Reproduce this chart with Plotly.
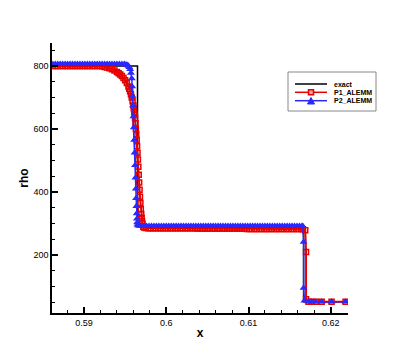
import plotly.graph_objects as go

# exact solution
x_exact = [0.5861, 0.5965, 0.5965, 0.6167, 0.6167, 0.6221]
rho_exact = [800, 800, 292, 292, 52, 52]

# P1_ALEMM
x_p1 = [0.5862, 0.5865, 0.5868, 0.5871, 0.5874, 0.5877, 0.5880, 0.5883, 0.5886, 0.5889,
        0.5892, 0.5895, 0.5898, 0.5901, 0.5904, 0.5907, 0.5910, 0.5913, 0.5916, 0.5919,
        0.5922, 0.5925, 0.5928, 0.5931, 0.5934, 0.5937, 0.5940, 0.5942, 0.5944, 0.5946,
        0.5948, 0.5950, 0.5952, 0.5954, 0.5955, 0.5956, 0.5957, 0.5958, 0.5959, 0.5960,
        0.59605, 0.5961, 0.59615, 0.5962, 0.59625, 0.5963, 0.59635, 0.5964, 0.59645, 0.5965,
        0.59655, 0.5966, 0.59665, 0.5967, 0.59675, 0.5968, 0.59685, 0.5969, 0.59695, 0.5970,
        0.59705, 0.5971, 0.5972, 0.5973, 0.5975,
        0.5978, 0.5981, 0.5984, 0.5987, 0.5990, 0.5993, 0.5996, 0.5999, 0.6002, 0.6005,
        0.6008, 0.6011, 0.6014, 0.6017, 0.6020, 0.6023, 0.6026, 0.6029, 0.6032, 0.6035,
        0.6038, 0.6041, 0.6044, 0.6047, 0.6050, 0.6053, 0.6056, 0.6059, 0.6062, 0.6065,
        0.6068, 0.6071, 0.6074, 0.6077, 0.6080, 0.6083, 0.6086, 0.6089, 0.6092, 0.6095,
        0.6098, 0.6101, 0.6104, 0.6107, 0.6110, 0.6113, 0.6116, 0.6119, 0.6122, 0.6125,
        0.6128, 0.6131, 0.6134, 0.6137, 0.6140, 0.6143, 0.6146, 0.6149, 0.6152, 0.6155,
        0.6158, 0.6161, 0.6164,
        0.6166, 0.6169, 0.6170, 0.6170, 0.6173, 0.6177, 0.6182, 0.6189, 0.6201, 0.6218]
rho_p1 = [800, 800, 800, 800, 800, 800, 800, 800, 800, 800,
          800, 800, 800, 800, 800, 800, 800, 800, 800, 800,
          799, 797, 795, 793, 790, 786, 781, 777, 773, 768,
          762, 755, 746, 735, 728, 720, 710, 700, 688, 675,
          665, 655, 645, 635, 618, 600, 583, 565, 545, 525,
          503, 480, 455, 430, 407, 385, 365, 345, 330, 318,
          308, 300, 290, 287, 286,
          285, 285, 285, 285, 285, 285, 285, 285, 285, 285,
          285, 285, 285, 285, 285, 285, 285, 285, 285, 285,
          284, 284, 284, 284, 284, 284, 284, 284, 284, 284,
          284, 284, 284, 284, 284, 284, 284, 284, 284, 284,
          283, 283, 283, 283, 283, 283, 283, 283, 283, 283,
          283, 283, 283, 283, 283, 283, 283, 283, 283, 283,
          283, 283, 283,
          282, 279, 210, 60, 52, 52, 52, 52, 52, 52]

# P2_ALEMM
x_p2 = [0.5862, 0.5865, 0.5868, 0.5871, 0.5874, 0.5877, 0.5880, 0.5883, 0.5886, 0.5889,
        0.5892, 0.5895, 0.5898, 0.5901, 0.5904, 0.5907, 0.5910, 0.5913, 0.5916, 0.5919,
        0.5922, 0.5925, 0.5928, 0.5931, 0.5934, 0.5937, 0.5940, 0.5943, 0.5946, 0.5949,
        0.5951, 0.5953, 0.5954, 0.5955, 0.5956, 0.5957, 0.5958, 0.59585, 0.5959, 0.59595,
        0.5960, 0.59605, 0.5961, 0.59615, 0.5962, 0.59625, 0.5963, 0.59633, 0.59636, 0.5964,
        0.59643, 0.59646, 0.5965, 0.5966, 0.5968,
        0.5970, 0.5973, 0.5976, 0.5979, 0.5982, 0.5985, 0.5988, 0.5991, 0.5994, 0.5997,
        0.6000, 0.6003, 0.6006, 0.6009, 0.6012, 0.6015, 0.6018, 0.6021, 0.6024, 0.6027,
        0.6030, 0.6033, 0.6036, 0.6039, 0.6042, 0.6045, 0.6048, 0.6051, 0.6054, 0.6057,
        0.6060, 0.6063, 0.6066, 0.6069, 0.6072, 0.6075, 0.6078, 0.6081, 0.6084, 0.6087,
        0.6090, 0.6093, 0.6096, 0.6099, 0.6102, 0.6105, 0.6108, 0.6111, 0.6114, 0.6117,
        0.6120, 0.6123, 0.6126, 0.6129, 0.6132, 0.6135, 0.6138, 0.6141, 0.6144, 0.6147,
        0.6150, 0.6153, 0.6156, 0.6159, 0.6162, 0.6165,
        0.6166, 0.6167, 0.6167, 0.6168, 0.6173, 0.6177, 0.6182, 0.6189, 0.6201, 0.6218]
rho_p2 = [806, 806, 806, 806, 806, 806, 806, 806, 806, 806,
          806, 806, 806, 806, 806, 806, 806, 806, 806, 806,
          806, 806, 806, 806, 806, 806, 806, 806, 806, 806,
          805, 803, 800, 796, 790, 778, 760, 735, 705, 675,
          640, 605, 565, 525, 485, 445, 410, 380, 355, 332,
          315, 303, 296, 293, 292,
          292, 292, 292, 292, 292, 292, 292, 292, 292, 292,
          292, 292, 292, 292, 292, 292, 292, 292, 292, 292,
          292, 292, 292, 292, 292, 292, 292, 292, 292, 292,
          292, 292, 292, 292, 292, 292, 292, 292, 292, 292,
          292, 292, 292, 292, 292, 292, 292, 292, 292, 292,
          292, 292, 292, 292, 292, 292, 292, 292, 292, 292,
          292, 292, 292, 292, 292, 292,
          292, 241, 95, 55, 52, 52, 52, 52, 52, 52]

names = ["exact", "P1_ALEMM", "P2_ALEMM"]
RED = "rgb(230,0,0)"
BLUE = "rgb(40,40,255)"

fig = go.Figure()
fig.add_trace(go.Scatter(x=x_exact, y=rho_exact, mode="lines", name=names[0],
                         line=dict(color="black", width=1.5)))
fig.add_trace(go.Scatter(x=x_p1, y=rho_p1, mode="lines+markers", name=names[1],
                         line=dict(color=RED, width=2),
                         marker=dict(symbol="square-open", size=5, color=RED,
                                     line=dict(width=1.5, color=RED))))
fig.add_trace(go.Scatter(x=x_p2, y=rho_p2, mode="lines+markers", name=names[2],
                         line=dict(color=BLUE, width=1.5),
                         marker=dict(symbol="triangle-up", size=7, color=BLUE)))

# the page body has an 8px margin, so the figure is 388x344 placed at (8, 8)
W, H, OFF = 388, 344, 8
# plot area in window pixels: left 52, right 348, top 43, bottom 313
L, R, T, B = 52, 348, 43, 313
def px(x):
    return (x - L) / (R - L)
def py(y):
    return (B - y) / (B - T)

# hand-drawn legend like the original
shapes = [dict(type="rect", xref="paper", yref="paper", x0=px(288), x1=px(376),
               y0=py(111), y1=py(72), line=dict(color="#888", width=1), fillcolor="white")]
rows = [84, 92.3, 100.7]
cols = ["black", RED, BLUE]
for r, c in zip(rows, cols):
    shapes.append(dict(type="line", xref="paper", yref="paper", x0=px(295), x1=px(327),
                       y0=py(r), y1=py(r), line=dict(color=c, width=1.5)))
shapes.append(dict(type="rect", xref="paper", yref="paper", x0=px(308.5), x1=px(313.5),
                   y0=py(94.8), y1=py(89.8), line=dict(color=RED, width=1.5), fillcolor="#f4a0a0"))
shapes.append(dict(type="path", xref="paper", yref="paper",
                   path="M %f,%f L %f,%f L %f,%f Z" % (px(307.5), py(104), px(314.5), py(104), px(311), py(97.5)),
                   line=dict(color=BLUE, width=1), fillcolor=BLUE))
annotations = []
for r, n in zip(rows, names):
    annotations.append(dict(xref="paper", yref="paper", x=px(332), y=py(r), text="<b>%s</b>" % n,
                            showarrow=False, xanchor="left", yanchor="middle",
                            font=dict(size=7, color="black")))

fig.update_layout(
    width=W, height=H,
    margin=dict(l=L - OFF, r=W + OFF - R, t=T - OFF, b=H + OFF - B),
    paper_bgcolor="white", plot_bgcolor="white",
    font=dict(family="Liberation Sans, Arial, sans-serif", color="black"),
    showlegend=False,
    shapes=shapes, annotations=annotations,
)
fig.update_xaxes(range=[0.5861, 0.6221], showgrid=False, zeroline=False, automargin=False,
                 showline=True, linecolor="black", linewidth=1.5, mirror=False,
                 tick0=0.59, dtick=0.01, ticks="inside", ticklen=6, tickwidth=1.5,
                 tickcolor="black", tickfont=dict(size=9),
                 minor=dict(dtick=0.002, ticks="inside", ticklen=3, tickcolor="black", tickwidth=1),
                 title=dict(text="<b>x</b>", font=dict(size=12), standoff=2))
fig.update_yaxes(range=[16, 873], showgrid=False, zeroline=False, automargin=False,
                 showline=True, linecolor="black", linewidth=1.5, mirror=False,
                 tick0=0, dtick=200, ticks="inside", ticklen=6, tickwidth=1.5,
                 tickcolor="black", tickfont=dict(size=9),
                 minor=dict(dtick=50, ticks="inside", ticklen=3, tickcolor="black", tickwidth=1),
                 title=dict(text="<b>rho</b>", font=dict(size=12), standoff=2))

fig.write_html("out.html")
